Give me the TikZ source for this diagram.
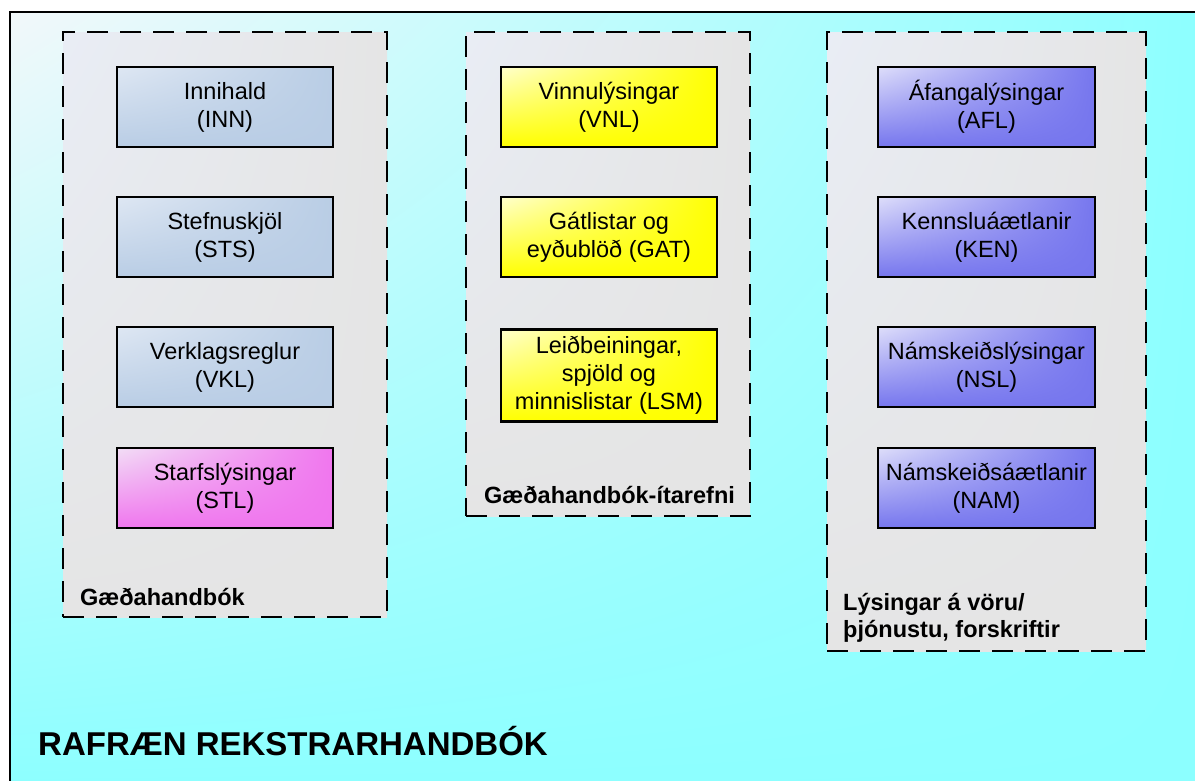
\documentclass[tikz,border=0pt]{standalone}
\usepackage{fontspec}
\setmainfont{Liberation Sans}
\usetikzlibrary{positioning,shadings}

\definecolor{bakgrunnur}{RGB}{140,255,255}
\definecolor{bakljos}{RGB}{242,248,250}
\definecolor{hopgrar}{RGB}{229,229,229}
\definecolor{hopljos}{RGB}{233,237,245}
\definecolor{blagrar}{RGB}{185,205,229}
\definecolor{blaljos}{RGB}{222,231,243}
\definecolor{bleikur}{RGB}{240,118,238}
\definecolor{bleikljos}{RGB}{242,222,246}
\definecolor{gulur}{RGB}{255,255,0}
\definecolor{gulljos}{RGB}{255,255,205}
\definecolor{fjola}{RGB}{118,118,238}
\definecolor{fjolaljos}{RGB}{222,222,250}

\tikzset{
  skjal/.style={draw, line width=2.5pt, minimum width=216pt, minimum height=80pt,
    align=center, inner sep=2pt, font=\fontsize{23.5}{28}\selectfont},
  grunnskjal/.style={skjal, shade, upper left=blaljos, upper right=blagrar,
    lower left=blagrar, lower right=blagrar},
  starfsskjal/.style={skjal, shade, upper left=bleikljos, upper right=bleikur,
    lower left=bleikur, lower right=bleikur},
  itarskjal/.style={skjal, shade, upper left=gulljos, upper right=gulur,
    lower left=gulur, lower right=gulur},
  voruskjal/.style={skjal, shade, upper left=fjolaljos, upper right=fjola,
    lower left=fjola, lower right=fjola},
  hopur/.style={draw, line width=2.5pt, dash pattern=on 21pt off 12pt,
    shade, upper left=hopljos, upper right=hopgrar, lower left=hopgrar,
    lower right=hopgrar, inner sep=0pt},
  merki/.style={inner sep=0pt, align=left,
    font=\fontsize{23.5}{27}\selectfont\bfseries}
}

\begin{document}
\begin{tikzpicture}[x=1pt,y=-1pt,node distance=130pt,on grid]
\clip (0,0) rectangle (1195,780);
% grunnur
\shade[upper left=bakljos, upper right=bakgrunnur, lower left=bakgrunnur,
  lower right=bakgrunnur] (10,12) rectangle (1210,790);
\draw[line width=2.5pt] (10,12) rectangle (1210,790);

% hopar
\node[hopur, minimum width=324pt, minimum height=585pt] (gab) at (225,324.5) {};
\node[hopur, minimum width=284pt, minimum height=484pt] (ita) at (608,274) {};
\node[hopur, minimum width=319pt, minimum height=619pt] (lys) at (986.5,341.5) {};

% Gaedahandbok
\node[grunnskjal] (inn) at (225,107) {Innihald\\(INN)};
\node[grunnskjal] [below=of inn] (sts) {Stefnuskjöl\\(STS)};
\node[grunnskjal] [below=of sts] (vkl) {Verklagsreglur\\(VKL)};
\node[starfsskjal] [below=121pt of vkl] (stl) {Starfslýsingar\\(STL)};

% itarefni
\node[itarskjal] (vnl) at (609,107) {Vinnulýsingar\\(VNL)};
\node[itarskjal] [below=of vnl] (gat) {Gátlistar og\\eyðublöð (GAT)};
\node[itarskjal, minimum height=92pt] [below=138.5pt of gat] (lsm)
  {Leiðbeiningar,\\spjöld og\\minnislistar (LSM)};

% lysingar
\node[voruskjal, minimum width=217pt] (afl) at (986.5,107) {Áfangalýsingar\\(AFL)};
\node[voruskjal, minimum width=217pt] [below=of afl] (ken) {Kennsluáætlanir\\(KEN)};
\node[voruskjal, minimum width=217pt] [below=of ken] (nsl) {Námskeiðslýsingar\\(NSL)};
\node[voruskjal, minimum width=217pt] [below=121pt of nsl] (nam) {Námskeiðsáætlanir\\(NAM)};

% merkingar
\node[merki, anchor=base west] (lgab) at (80,605) {Gæðahandbók};
\node[merki, anchor=base west] (lita) at (484,503) {Gæðahandbók-ítarefni};
\node[merki, anchor=base west] (llys) at (843,637) {Lýsingar á vöru/\\þjónustu, forskriftir};
\node[anchor=base west, inner sep=0pt, font=\fontsize{33}{39}\selectfont\bfseries]
  (titill) at (38,755) {RAFRÆN REKSTRARHANDBÓK};
\end{tikzpicture}
\end{document}
